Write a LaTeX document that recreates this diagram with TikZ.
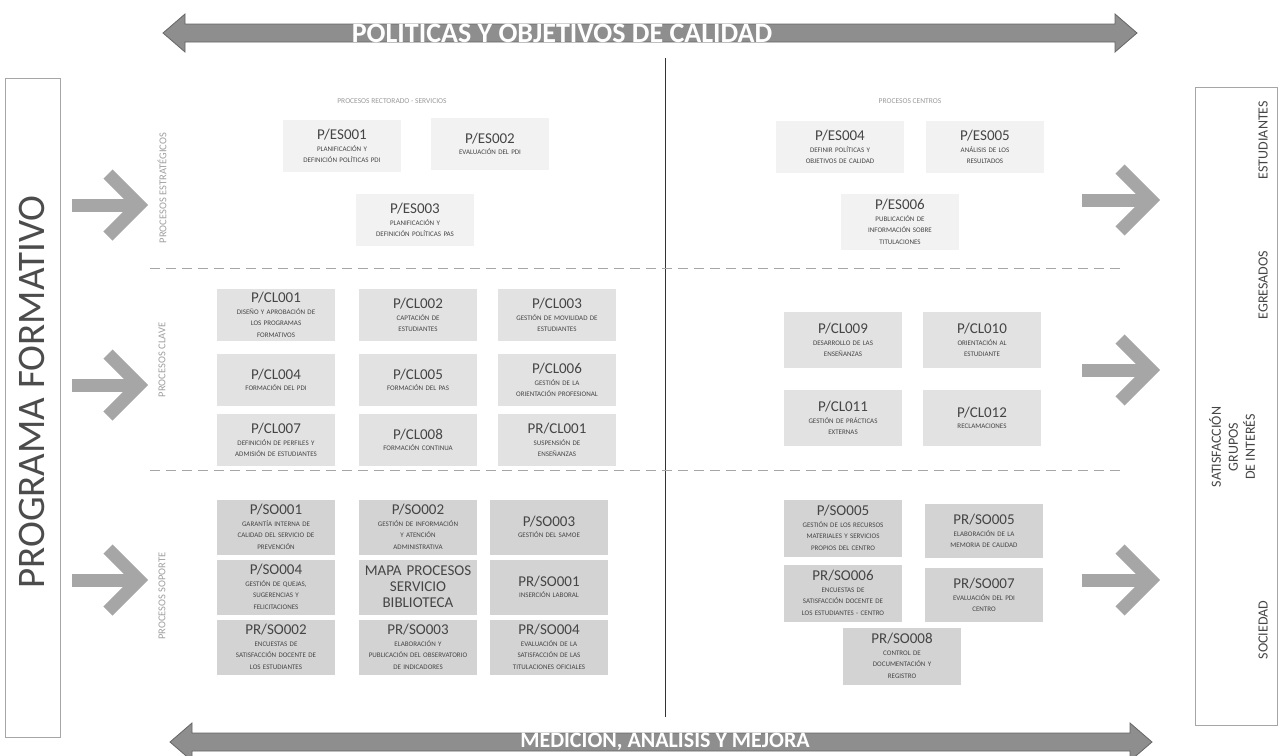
\documentclass[tikz,border=0pt]{standalone}
\usepackage{fontspec}
\setmainfont{Carlito}
\usetikzlibrary{positioning}

\definecolor{estfill}{HTML}{F2F2F2}
\definecolor{clfill}{HTML}{E2E2E2}
\definecolor{sofill}{HTML}{D3D3D3}
\definecolor{txtgray}{HTML}{454545}
\definecolor{bandgray}{HTML}{8E8E8E}
\definecolor{arrowgray}{HTML}{A6A6A6}

\newcommand{\pcode}[2]{{\fontsize{15}{15}\selectfont #1}\\#2}

\begin{document}
\begin{tikzpicture}[x=1pt,y=-1pt,
  box/.style={minimum width=118pt, minimum height=52pt, text width=112pt,
    align=center, inner sep=2pt, text=txtgray,
    font=\fontsize{7}{11.5}\selectfont},
  estbox/.style={box, fill=estfill},
  clbox/.style={box, fill=clfill},
  sobox/.style={box, fill=sofill},
  sidelabel/.style={rotate=90, text=gray!75, font=\fontsize{10.5}{12}\selectfont},
  endlabel/.style={rotate=90, text=txtgray, align=center, font=\fontsize{14}{17}\selectfont},
  bigarrow/.style={line width=13pt, arrowgray, line join=miter},
  band/.style={fill=bandgray, draw=black!60, line width=0.8pt},
  bandtext/.style={text=white, font=\bfseries}
]
\useasboundingbox (0,0) rectangle (1282,755);

% top and bottom bands
\draw[band] (163,33) -- (185,14) -- (185,24) -- (1115,24) -- (1115,14) -- (1137,33)
  -- (1115,52) -- (1115,42) -- (185,42) -- (185,52) -- cycle;
\node[bandtext, font=\bfseries\fontsize{28}{28}\selectfont] (pol) at (562,33) {POLITICAS Y OBJETIVOS DE CALIDAD};
\draw[band] (170,742) -- (192,723) -- (192,733) -- (1130,733) -- (1130,723) -- (1152,742)
  -- (1130,761) -- (1130,751) -- (192,751) -- (192,761) -- cycle;
\node[bandtext, font=\bfseries\fontsize{22}{22}\selectfont] (med) at (665,742) {MEDICION, ANALISIS Y MEJORA};

% side banners
\node[draw=gray!70, minimum width=55pt, minimum height=659pt, inner sep=0pt] (prog) at (32.5,407.5) {};
\node[rotate=90, text=black!70, font=\fontsize{39}{39}\selectfont] (progtxt) at (32,392) {PROGRAMA FORMATIVO};
\node[draw=gray!70, minimum width=82pt, minimum height=638pt, inner sep=0pt] (grupos) at (1236,406) {};
\node[endlabel] (estud) at (1263,140) {ESTUDIANTES};
\node[endlabel] (egres) at (1263,285) {EGRESADOS};
\node[endlabel] (satis) at (1232,447) {SATISFACCIÓN\\GRUPOS\\DE INTERÉS};
\node[endlabel] (socie) at (1263,630) {SOCIEDAD};

% separators
\coordinate (vtop) at (665,58);
\coordinate (vbot) at (665,717);
\draw[black!80, line width=1pt] (vtop) -- (vbot);
\draw[gray!70, dash pattern=on 10pt off 6pt, line width=0.8pt] (150,268) -- (1125,268);
\draw[gray!70, dash pattern=on 10pt off 6pt, line width=0.8pt] (150,470) -- (1125,470);

% headers and side labels
\node[text=gray!80, font=\fontsize{7.5}{9}\selectfont] (hrect) at (392,101) {PROCESOS RECTORADO - SERVICIOS};
\node[text=gray!80, font=\fontsize{7.5}{9}\selectfont] (hcent) at (910,101) {PROCESOS CENTROS};
\node[sidelabel] (lest) at (162,188) {PROCESOS ESTRATÉGICOS};
\node[sidelabel] (lcla) at (162,360) {PROCESOS CLAVE};
\node[sidelabel] (lsop) at (162,596) {PROCESOS SOPORTE};

% big arrows
\foreach \yy in {205,385,580} {
  \draw[bigarrow] (72,\yy) -- (138,\yy);
  \draw[bigarrow] (108,\yy-31) -- (139,\yy) -- (108,\yy+31);
}
\foreach \yy in {200,370,580} {
  \draw[bigarrow] (1082,\yy) -- (1150,\yy);
  \draw[bigarrow] (1120,\yy-31) -- (1151,\yy) -- (1120,\yy+31);
}

% procesos estrategicos
\node[estbox] (es1) at (342,146) {\pcode{P/ES001}{PLANIFICACIÓN Y\\DEFINICIÓN POLÍTICAS PDI}};
\node[estbox] (es2) at (490,144) {\pcode{P/ES002}{EVALUACIÓN DEL PDI}};
\node[estbox] (es3) at (415,220) {\pcode{P/ES003}{PLANIFICACIÓN Y\\DEFINICIÓN POLÍTICAS PAS}};
\node[estbox, minimum width=128pt] (es4) at (840,147) {\pcode{P/ES004}{DEFINIR POLÍTICAS Y\\OBJETIVOS DE CALIDAD}};
\node[estbox] (es5) at (985,147) {\pcode{P/ES005}{ANÁLISIS DE LOS\\RESULTADOS}};
\node[estbox, minimum height=56pt] (es6) at (900,222) {\pcode{P/ES006}{PUBLICACIÓN DE\\INFORMACIÓN SOBRE\\TITULACIONES}};

% procesos clave
\node[clbox] (cl1) at (276,315) {\pcode{P/CL001}{DISEÑO Y APROBACIÓN DE\\LOS PROGRAMAS\\FORMATIVOS}};
\node[clbox] (cl2) at (418,315) {\pcode{P/CL002}{CAPTACIÓN DE\\ESTUDIANTES}};
\node[clbox] (cl3) at (557,315) {\pcode{P/CL003}{GESTIÓN DE MOVILIDAD DE\\ESTUDIANTES}};
\node[clbox] (cl4) at (276,380) {\pcode{P/CL004}{FORMACIÓN DEL PDI}};
\node[clbox] (cl5) at (418,380) {\pcode{P/CL005}{FORMACIÓN DEL PAS}};
\node[clbox] (cl6) at (557,380) {\pcode{P/CL006}{GESTIÓN DE LA\\ORIENTACIÓN PROFESIONAL}};
\node[clbox] (cl7) at (276,440) {\pcode{P/CL007}{DEFINICIÓN DE PERFILES Y\\ADMISIÓN DE ESTUDIANTES}};
\node[clbox] (cl8) at (418,440) {\pcode{P/CL008}{FORMACIÓN CONTINUA}};
\node[clbox] (prcl1) at (557,440) {\pcode{PR/CL001}{SUSPENSIÓN DE\\ENSEÑANZAS}};
\node[clbox, minimum height=56pt] (cl9) at (843,340) {\pcode{P/CL009}{DESARROLLO DE LAS\\ENSEÑANZAS}};
\node[clbox, minimum height=56pt] (cl10) at (982,340) {\pcode{P/CL010}{ORIENTACIÓN AL\\ESTUDIANTE}};
\node[clbox, minimum height=56pt] (cl11) at (843,418) {\pcode{P/CL011}{GESTIÓN DE PRÁCTICAS\\EXTERNAS}};
\node[clbox, minimum height=56pt] (cl12) at (982,418) {\pcode{P/CL012}{RECLAMACIONES}};

% procesos soporte
\node[sobox, minimum height=55pt] (so1) at (276,527) {\pcode{P/SO001}{GARANTÍA INTERNA DE\\CALIDAD DEL SERVICIO DE\\PREVENCIÓN}};
\node[sobox, minimum height=55pt] (so2) at (418,527) {\pcode{P/SO002}{GESTIÓN DE INFORMACIÓN\\Y ATENCIÓN\\ADMINISTRATIVA}};
\node[sobox, minimum height=55pt] (so3) at (549,527) {\pcode{P/SO003}{GESTIÓN DEL SAMOE}};
\node[sobox, minimum height=55pt] (so4) at (276,587) {\pcode{P/SO004}{GESTIÓN DE QUEJAS,\\SUGERENCIAS Y\\FELICITACIONES}};
\node[sobox, minimum height=55pt, font=\fontsize{15}{16}\selectfont] (bib) at (418,587) {MAPA PROCESOS\\SERVICIO\\BIBLIOTECA};
\node[sobox, minimum height=55pt] (prso1) at (549,587) {\pcode{PR/SO001}{INSERCIÓN LABORAL}};
\node[sobox, minimum height=55pt] (prso2) at (276,647) {\pcode{PR/SO002}{ENCUESTAS DE\\SATISFACCIÓN DOCENTE DE\\LOS ESTUDIANTES}};
\node[sobox, minimum height=55pt] (prso3) at (418,647) {\pcode{PR/SO003}{ELABORACIÓN Y\\PUBLICACIÓN DEL OBSERVATORIO\\DE INDICADORES}};
\node[sobox, minimum height=55pt] (prso4) at (549,647) {\pcode{PR/SO004}{EVALUACIÓN DE LA\\SATISFACCIÓN DE LAS\\TITULACIONES OFICIALES}};
\node[sobox, minimum height=57pt] (so5) at (843,528) {\pcode{P/SO005}{GESTIÓN DE LOS RECURSOS\\MATERIALES Y SERVICIOS\\PROPIOS DEL CENTRO}};
\node[sobox, minimum height=54pt] (prso5) at (984,531) {\pcode{PR/SO005}{ELABORACIÓN DE LA\\MEMORIA DE CALIDAD}};
\node[sobox, minimum height=57pt] (prso6) at (843,593) {\pcode{PR/SO006}{ENCUESTAS DE\\SATISFACCIÓN DOCENTE DE\\LOS ESTUDIANTES - CENTRO}};
\node[sobox, minimum height=54pt] (prso7) at (984,595) {\pcode{PR/SO007}{EVALUACIÓN DEL PDI\\CENTRO}};
\node[sobox, minimum height=57pt] (prso8) at (902,656) {\pcode{PR/SO008}{CONTROL DE\\DOCUMENTACIÓN Y\\REGISTRO}};
\end{tikzpicture}
\end{document}
